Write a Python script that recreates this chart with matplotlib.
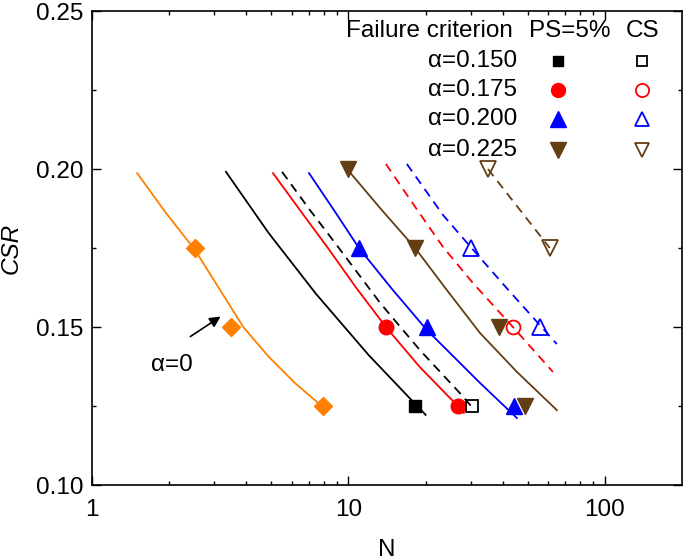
import matplotlib
matplotlib.use('Agg')
from matplotlib import pyplot as plt
from matplotlib.ticker import FixedLocator, FormatStrFormatter, NullFormatter

plt.rcParams['font.family'] = ['Liberation Sans', 'DejaVu Sans']

# fitted curves (N, CSR)
orange_N = [1.50, 1.93, 2.52, 3.16, 3.89, 4.86, 6.18, 7.95]
orange_csr = [0.1987, 0.1864, 0.1744, 0.1617, 0.1500, 0.1408, 0.1323, 0.1247]

black_N = [3.33, 4.89, 7.49, 12.0, 20.0]
black_csr = [0.1991, 0.1797, 0.1604, 0.1411, 0.1222]

red_N = [5.08, 6.47, 8.32, 10.75, 14.0, 19.0, 26.7, 28.2]
red_csr = [0.1987, 0.1870, 0.1750, 0.1623, 0.1500, 0.1373, 0.1250, 0.1228]

blue_N = [7.02, 8.78, 10.99, 14.8, 20.2, 32.6, 45.4]
blue_csr = [0.1987, 0.1870, 0.1750, 0.1620, 0.1491, 0.1323, 0.1212]

brown_N = [9.95, 13.4, 18.2, 24.2, 32.6, 45.4, 65.0]
brown_csr = [0.1997, 0.1873, 0.1750, 0.1617, 0.1481, 0.1358, 0.1237]

black_cs_N = [5.51, 7.08, 9.18, 13.3, 19.0, 27.2, 30.3]
black_cs_csr = [0.1991, 0.1870, 0.1750, 0.1576, 0.1427, 0.1291, 0.1247]

red_cs_N = [14.0, 18.0, 23.4, 30.6, 43.8, 62.7]
red_cs_csr = [0.2016, 0.1886, 0.1753, 0.1639, 0.1500, 0.1358]

blue_cs_N = [16.9, 23.4, 30.0, 40.7, 55.8, 65.0]
blue_cs_csr = [0.2016, 0.1854, 0.1753, 0.1630, 0.1506, 0.1446]

brown_cs_N = [35.0, 61.0]
brown_cs_csr = [0.200, 0.175]

# test points
diam_N = [2.52, 3.48, 7.95]
diam_csr = [0.175, 0.150, 0.125]

ps_sq_N = [18.2]
ps_sq_csr = [0.125]
ps_ci_N = [14.0, 26.8]
ps_ci_csr = [0.150, 0.125]
ps_up_N = [11.0, 20.2, 44.1]
ps_up_csr = [0.175, 0.150, 0.125]
ps_dn_N = [10.0, 18.2, 38.6, 48.8]
ps_dn_csr = [0.200, 0.175, 0.150, 0.125]

cs_sq_N = [30.3]
cs_sq_csr = [0.125]
cs_ci_N = [43.7]
cs_ci_csr = [0.150]
cs_up_N = [30.0, 55.8]
cs_up_csr = [0.175, 0.150]
cs_dn_N = [35.0, 61.0]
cs_dn_csr = [0.200, 0.175]

alpha_labels = ['α=0.150', 'α=0.175', 'α=0.200', 'α=0.225']

ORANGE = '#FF8000'
RED = '#FF0000'
BLUE = '#0000FF'
BROWN = '#633D14'

fig = plt.figure(figsize=(6.85, 5.6), dpi=100)
ax = fig.add_axes([92/685, 75/560, 590/685, 474/560])

lw = 1.3
dash = (0, (5, 3.5))

ax.plot(orange_N, orange_csr, color=ORANGE, lw=lw)
ax.plot(black_N, black_csr, color='k', lw=lw)
ax.plot(red_N, red_csr, color=RED, lw=lw)
ax.plot(blue_N, blue_csr, color=BLUE, lw=lw)
ax.plot(brown_N, brown_csr, color=BROWN, lw=lw)

ax.plot(black_cs_N, black_cs_csr, color='k', lw=lw, ls=dash)
ax.plot(red_cs_N, red_cs_csr, color=RED, lw=lw, ls=dash)
ax.plot(blue_cs_N, blue_cs_csr, color=BLUE, lw=lw, ls=dash)
ax.plot(brown_cs_N, brown_cs_csr, color=BROWN, lw=lw, ls=dash)

ax.plot(diam_N, diam_csr, 'D', color=ORANGE, ms=9.5, mec=ORANGE)

ax.plot(ps_sq_N, ps_sq_csr, 's', color='k', ms=9)
ax.plot(ps_ci_N, ps_ci_csr, 'o', color=RED, ms=10.5)
ax.plot(ps_up_N, ps_up_csr, '^', color=BLUE, ms=12)
ax.plot(ps_dn_N, ps_dn_csr, 'v', color=BROWN, ms=12)

ax.plot(cs_sq_N, cs_sq_csr, 's', mfc='none', mec='k', mew=1.3, ms=8.5)
ax.plot(cs_ci_N, cs_ci_csr, 'o', mfc='none', mec=RED, mew=1.3, ms=10)
ax.plot(cs_up_N, cs_up_csr, '^', mfc='none', mec=BLUE, mew=1.3, ms=11)
ax.plot(cs_dn_N, cs_dn_csr, 'v', mfc='none', mec=BROWN, mew=1.3, ms=11)

ax.set_xscale('log')
ax.set_xlim(1, 200)
ax.set_ylim(0.10, 0.25)
ax.xaxis.set_major_locator(FixedLocator([1, 10, 100]))
ax.xaxis.set_major_formatter(FormatStrFormatter('%d'))
ax.xaxis.set_minor_locator(FixedLocator([2, 3, 4, 5, 6, 7, 8, 9, 20, 30, 40, 50, 60, 70, 80, 90]))
ax.xaxis.set_minor_formatter(NullFormatter())
ax.yaxis.set_major_locator(FixedLocator([0.10, 0.15, 0.20, 0.25]))
ax.yaxis.set_minor_locator(FixedLocator([0.125, 0.175, 0.225]))
ax.yaxis.set_major_formatter(FormatStrFormatter('%.2f'))

ax.tick_params(which='both', direction='in', top=True, right=True, labelsize=17.5, width=1.0)
ax.tick_params(which='major', length=6.5)
ax.tick_params(which='minor', length=3.2)
ax.tick_params(axis='x', which='major', pad=10)
ax.tick_params(axis='y', which='major', pad=6)
for sp in ax.spines.values():
    sp.set_linewidth(1.2)

ax.set_xlabel('N', fontsize=17.5, labelpad=13)
ax.set_ylabel('CSR', fontsize=17.5, style='italic', labelpad=10)

# arrow label for alpha = 0
ax.annotate('', xy=(3.24, 0.1538), xytext=(2.37, 0.1465),
            arrowprops=dict(arrowstyle='-|>', color='k', lw=1.2, mutation_scale=16))
ax.text(2.05, 0.138, 'α=0', fontsize=17.5, ha='center', va='center')

# legend block drawn by hand (figure pixel positions)
def fx(px):
    return px / 685.0

def fy(py):
    return 1 - py / 560.0

fs = 17.5
fig.text(fx(346), fy(31), 'Failure criterion', fontsize=fs, ha='left', va='center')
fig.text(fx(529), fy(31), 'PS=5%', fontsize=fs, ha='left', va='center')
fig.text(fx(626), fy(31), 'CS', fontsize=fs, ha='left', va='center')

rows_y = [61, 90, 119, 150]
ps_style = [('s', 'k', 7.5), ('o', RED, 10), ('^', BLUE, 11), ('v', BROWN, 11)]
for lab, ry, (mk, col, ms) in zip(alpha_labels, rows_y, ps_style):
    fig.text(fx(517), fy(ry), lab, fontsize=fs, ha='right', va='center')
    fig.lines.append(plt.Line2D([fx(558)], [fy(ry)], marker=mk, color=col, ms=ms,
                                transform=fig.transFigure, ls='none'))
    fig.lines.append(plt.Line2D([fx(642)], [fy(ry)], marker=mk, mfc='none', mec=col, mew=1.3,
                                ms=ms * 0.95, transform=fig.transFigure, ls='none'))

fig.savefig('out.png', dpi=100)
